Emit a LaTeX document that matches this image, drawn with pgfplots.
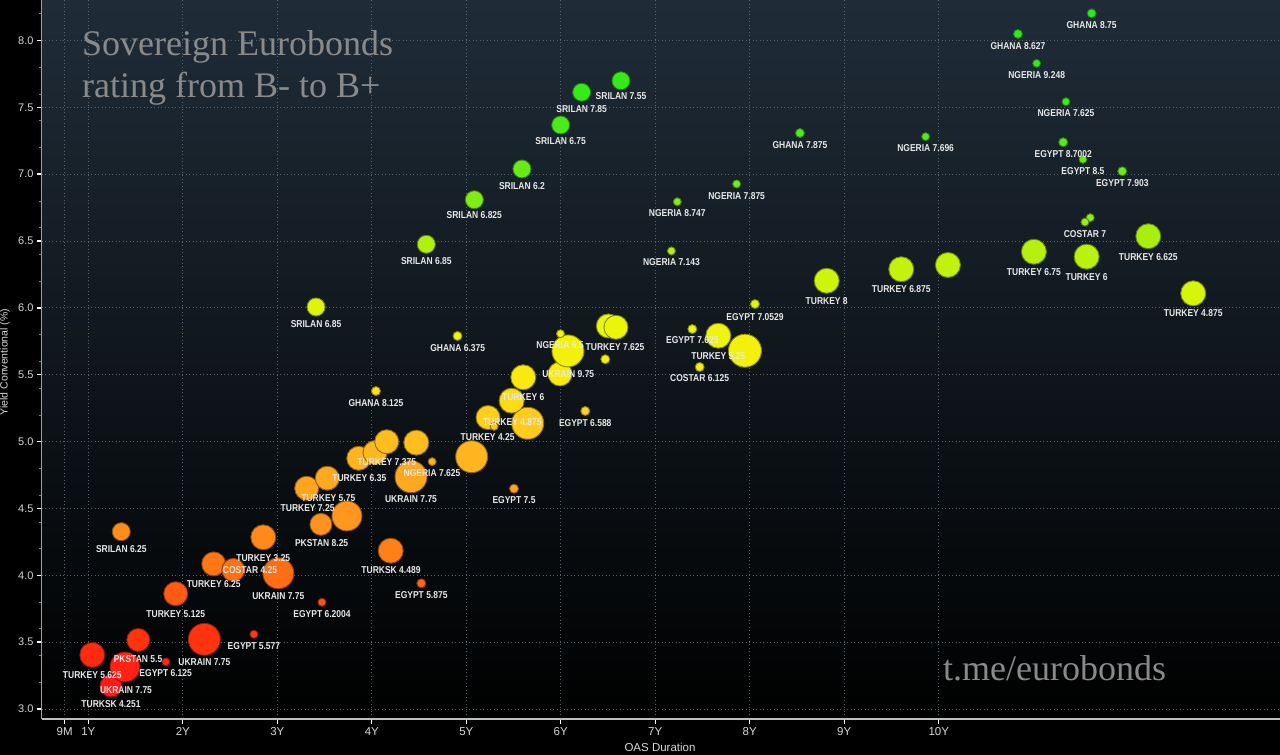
\documentclass[border=0pt]{standalone}
\usepackage{pgfplots}
\pgfplotsset{compat=1.18}
\usepackage{pgfplotstable}
\usepackage{fontspec}
\setmainfont{Liberation Sans}
\newfontfamily\lblfont[FakeStretch=0.85]{Liberation Sans}
\newfontfamily\axfont{Liberation Sans}
\newfontfamily\titlefont{Liberation Serif}
\definecolor{bgtop}{RGB}{31,44,56}
\definecolor{gridc}{RGB}{88,98,108}
\definecolor{ticklab}{RGB}{215,215,215}
\definecolor{lblc}{RGB}{232,232,232}
\definecolor{ttl}{RGB}{138,138,138}
\definecolor{axc}{RGB}{190,190,190}
\definecolor{axcy}{RGB}{160,160,160}

\pgfplotstableread[col sep=comma]{
x,y,r
1.042,3.404,12.5
1.529,3.516,11.5
1.240,3.172,11
1.388,3.314,15
1.822,3.352,4
2.228,3.521,16
2.753,3.559,4
1.925,3.862,12
2.327,4.085,12
2.534,4.040,11.5
2.852,4.284,12.5
3.011,4.015,15.5
3.473,3.798,4
1.349,4.326,9
3.462,4.381,11
3.737,4.444,15
3.311,4.651,12
3.529,4.726,12
4.200,4.184,12.5
4.524,3.940,4.5
3.862,4.875,12
4.034,4.918,12
4.158,4.999,12
4.471,4.992,12.5
4.639,4.850,4
4.415,4.737,16
5.057,4.887,16
5.230,5.180,12
5.650,5.137,16
5.295,5.114,4
5.480,5.306,12.5
5.603,5.481,12.5
5.992,5.506,12
6.076,5.678,16
5.997,5.807,4
6.471,5.616,4.5
6.259,5.229,4.5
5.505,4.648,4.5
4.044,5.378,4.5
4.907,5.790,4.5
6.503,5.865,12
6.584,5.855,12
7.171,6.426,4
8.814,6.203,12.5
8.055,6.029,4.5
7.392,5.842,4.5
7.667,5.792,12.5
7.949,5.680,16.5
7.470,5.558,4.5
6.637,7.699,9
6.221,7.613,9
5.999,7.368,9
5.589,7.039,9
5.085,6.809,9
4.577,6.476,9
3.410,6.007,9
8.531,7.308,4.5
9.861,7.281,4
7.861,6.927,4
7.233,6.794,4
9.603,6.289,12.5
10.097,6.321,12.5
11.618,8.203,4.5
10.838,8.049,4.5
11.036,7.829,4
11.346,7.542,4
11.317,7.239,4.5
11.526,7.111,4
11.942,7.022,4.5
11.603,6.675,4
11.547,6.642,4
11.007,6.420,12.5
11.565,6.383,12.5
12.217,6.536,12.5
12.693,6.109,12.5
}\bubbles

\pgfplotstableread[col sep=comma]{
lx,ly,lab
1.042,3.254,TURKEY 5.625
1.526,3.376,PKSTAN 5.5
1.399,3.138,UKRAIN 7.75
1.240,3.037,TURKSK 4.251
1.819,3.267,EGYPT 6.125
2.228,3.349,UKRAIN 7.75
2.753,3.473,EGYPT 5.577
1.925,3.708,TURKEY 5.125
2.327,3.935,TURKEY 6.25
2.711,4.037,COSTAR 4.25
2.852,4.132,TURKEY 3.25
3.011,3.845,UKRAIN 7.75
3.473,3.708,EGYPT 6.2004
1.349,4.199,SRILAN 6.25
3.469,4.244,PKSTAN 8.25
3.321,4.501,TURKEY 7.25
3.540,4.576,TURKEY 5.75
4.203,4.040,TURKSK 4.489
4.524,3.853,EGYPT 5.875
3.868,4.728,TURKEY 6.35
4.158,4.847,TURKEY 7.375
4.637,4.763,NGERIA 7.625
4.415,4.568,UKRAIN 7.75
5.226,5.032,TURKEY 4.25
5.487,5.149,TURKEY 4.875
5.603,5.331,TURKEY 6
6.079,5.505,UKRAIN 9.75
5.992,5.721,NGERIA 6.5
6.259,5.141,EGYPT 6.588
5.505,4.563,EGYPT 7.5
4.044,5.291,GHANA 8.125
4.909,5.698,GHANA 6.375
6.574,5.704,TURKEY 7.625
7.171,6.343,NGERIA 7.143
8.814,6.052,TURKEY 8
8.055,5.934,EGYPT 7.0529
7.392,5.760,EGYPT 7.625
7.667,5.640,TURKEY 5.25
7.470,5.476,COSTAR 6.125
6.637,7.585,SRILAN 7.55
6.221,7.488,SRILAN 7.85
5.999,7.248,SRILAN 6.75
5.589,6.914,SRILAN 6.2
5.085,6.693,SRILAN 6.825
4.577,6.351,SRILAN 6.85
3.410,5.882,SRILAN 6.85
8.531,7.216,GHANA 7.875
9.861,7.194,NGERIA 7.696
7.861,6.839,NGERIA 7.875
7.233,6.712,NGERIA 8.747
9.603,6.139,TURKEY 6.875
11.618,8.114,GHANA 8.75
10.838,7.957,GHANA 8.627
11.036,7.744,NGERIA 9.248
11.346,7.460,NGERIA 7.625
11.317,7.151,EGYPT 8.7002
11.526,7.022,EGYPT 8.5
11.942,6.934,EGYPT 7.903
11.547,6.555,COSTAR 7
11.007,6.268,TURKEY 6.75
11.565,6.233,TURKEY 6
12.217,6.383,TURKEY 6.625
12.693,5.962,TURKEY 4.875
}\labels

\begin{document}
\begin{tikzpicture}
\path[use as bounding box] (0pt,0pt) rectangle (1280pt,755pt);
\fill[black] (0pt,0pt) rectangle (1280pt,755pt);
\begin{axis}[
  at={(42pt,36pt)}, anchor=south west,
  scale only axis, width=1238pt, height=719pt,
  xmin=0.510, xmax=13.611, ymin=2.925, ymax=8.303,
  clip mode=individual,
  axis background/.style={top color=bgtop, bottom color=black},
  axis x line*=bottom, axis y line*=left,
  x axis line style={draw=axc, line width=2pt},
  y axis line style={draw=axcy, line width=1pt},
  xtick={0.75,1,2,3,4,5,6,7,8,9,10},
  xticklabels={9M,1Y,2Y,3Y,4Y,5Y,6Y,7Y,8Y,9Y,10Y},
  ytick={3,3.5,4,4.5,5,5.5,6,6.5,7,7.5,8},
  minor ytick={3.2,3.4,3.6,3.8,4.2,4.4,4.6,4.8,5.2,5.4,5.6,5.8,6.2,6.4,6.6,6.8,7.2,7.4,7.6,7.8,8.2},
  tick align=outside,
  major tick length=5pt, minor tick length=3pt,
  tick style={draw=white, line width=1.4pt},
  minor tick style={draw=gray, line width=0.6pt},
  grid=major,
  major grid style={draw=gridc, dash pattern=on 1pt off 2.5pt, line width=0.8pt},
  xticklabel style={font=\axfont\fontsize{11.5}{13}\selectfont, text=ticklab},
  yticklabel style={font=\axfont\fontsize{11}{13}\selectfont, text=ticklab,
    /pgf/number format/.cd, fixed, fixed zerofill, precision=1, assume math mode=true},
  xlabel={OAS Duration},
  ylabel={Yield Conventional (\%)},
  every axis x label/.style={at={(axis description cs:0.4992,-0.0389)}, anchor=center,
    font=\axfont\fontsize{11.5}{13}\selectfont, text=ticklab},
  every axis y label/.style={at={(axis description cs:-0.0299,0.4965)}, rotate=90, anchor=center,
    font=\axfont\fontsize{10.5}{12}\selectfont, text=ticklab},
  colormap={bonds}{rgb255(320pt)=(255,25,25) rgb255(350pt)=(255,50,15) rgb255(385pt)=(255,90,20)
    rgb255(410pt)=(255,120,20) rgb255(440pt)=(255,148,30) rgb255(475pt)=(255,170,32)
    rgb255(500pt)=(255,190,30) rgb255(520pt)=(255,210,25) rgb255(550pt)=(250,235,15)
    rgb255(580pt)=(238,245,10) rgb255(610pt)=(215,245,10) rgb255(645pt)=(180,240,15)
    rgb255(680pt)=(130,236,20) rgb255(720pt)=(90,235,25) rgb255(760pt)=(55,235,25)
    rgb255(830pt)=(45,230,35)},
  point meta min=3.2, point meta max=8.3,
]
\addplot[scatter, only marks, mark=*, point meta=y, line width=0.9pt,
  scatter/use mapped color={draw=mapped color!55!black, fill=mapped color},
  visualization depends on={\thisrow{r}\as\rad},
  scatter/@pre marker code/.append style={/tikz/mark size=\rad}]
  table[x=x,y=y]{\bubbles};
\addplot[only marks, mark=none, point meta=explicit symbolic, nodes near coords,
  every node near coord/.append style={anchor=center, inner sep=0pt,
    font=\lblfont\bfseries\fontsize{10}{12}\selectfont, text=lblc}]
  table[x=lx,y=ly,meta=lab]{\labels};
\node[anchor=base west, inner sep=0pt, text=ttl, font=\titlefont\fontsize{36}{42}\selectfont]
  at (axis description cs:0.0323,0.9221) {Sovereign Eurobonds};
\node[anchor=base west, inner sep=0pt, text=ttl, font=\titlefont\fontsize{36}{42}\selectfont]
  at (axis description cs:0.0323,0.8637) {rating from B- to B+};
\node[anchor=base west, inner sep=0pt, text=ttl, font=\titlefont\fontsize{36}{42}\selectfont]
  at (axis description cs:0.7278,0.0542) {t.me/eurobonds};
\end{axis}
\end{tikzpicture}
\end{document}
